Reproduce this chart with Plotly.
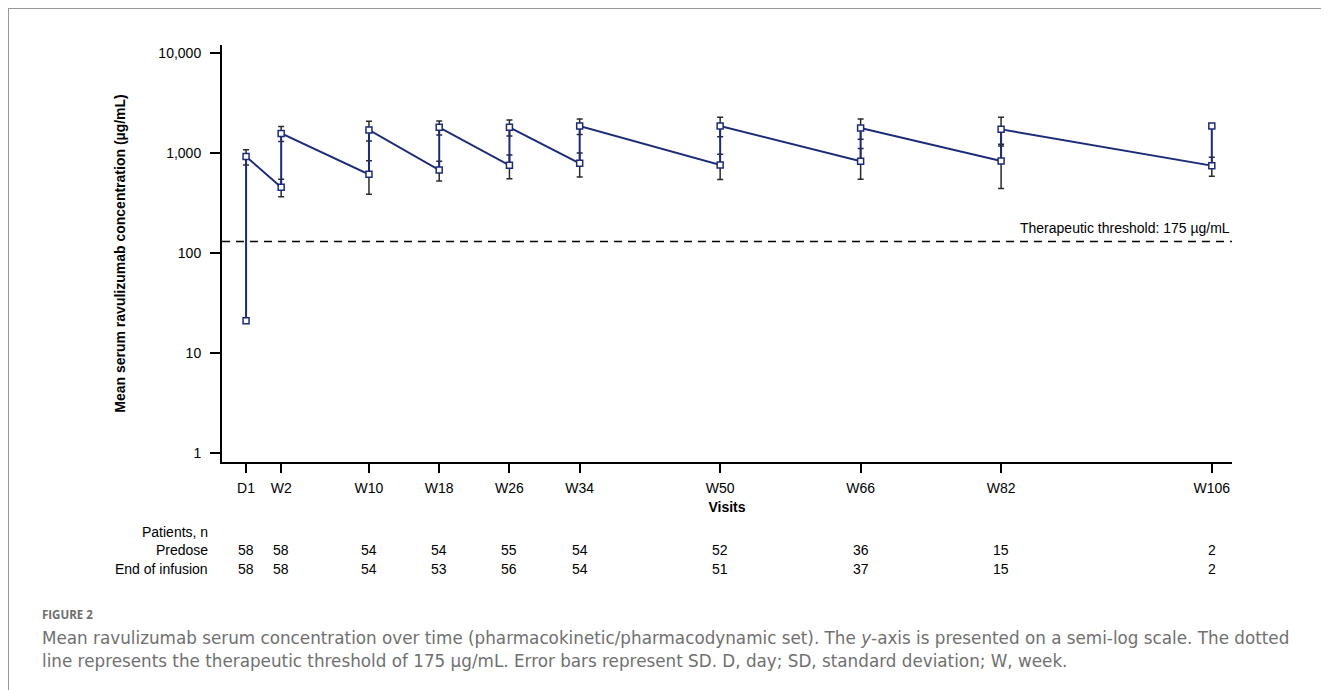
import math
import plotly.graph_objects as go

# ---------------- data ----------------
visits = ["D1", "W2", "W10", "W18", "W26", "W34", "W50", "W66", "W82", "W106"]
visit_x = [-4, 0, 10, 18, 26, 34, 50, 66, 82, 106]          # axis position of each visit
predose_mean = [21, 455, 612, 676, 753, 789, 759, 826, 832, 747]
predose_sd = [None, 90, 225, 150, 200, 213, 215, 280, 390, 160]
eoi_mean = [920, 1570, 1700, 1805, 1805, 1862, 1862, 1778, 1724, 1862]
eoi_sd = [160, 268, 380, 288, 330, 332, 410, 408, 550, None]
n_predose = [58, 58, 54, 54, 55, 54, 52, 36, 15, 2]
n_eoi = [58, 58, 54, 53, 56, 54, 51, 37, 15, 2]
threshold_drawn = 130          # level at which the dashed line is drawn in the figure
threshold_label = "Therapeutic threshold: 175 µg/mL"
y_tickvals = [1, 10, 100, 1000, 10000]
y_ticktext = ["1", "10", "100", "1,000", "10,000"]

# ---------------- layout geometry ----------------
OFF = 8                      # page body margin
W, H = 1329 - OFF, 690 - OFF
L, T = 222 - OFF, 45 - OFF
PW, PH = 1010, 417
R, B = W - L - PW, H - T - PH
X_RANGE = [-6.74, 108.3]
Y_RANGE = [-0.09, 4.08]


def pxx(p):
    """page x pixel -> paper x"""
    return (p - OFF - L) / PW


def pxy(p):
    """page y pixel -> paper y"""
    return (T + PH - (p - OFF)) / PH


NAVY = "#1c2b78"
FONT = "Liberation Sans, Arial, sans-serif"
CAP_FONT = "DejaVu Sans, Open Sans, sans-serif"

fig = go.Figure()


def err_trace(means, sds):
    xs, ys, es = [], [], []
    for x, m, s in zip(visit_x, means, sds):
        if s is not None:
            xs.append(x); ys.append(m); es.append(s)
    return go.Scatter(
        x=xs, y=ys, mode="markers",
        marker=dict(size=1, color="rgba(0,0,0,0)"),
        error_y=dict(type="data", array=es, visible=True, color="#2a2a2a",
                     thickness=1.5, width=3),
        hoverinfo="skip", showlegend=False,
    )


fig.add_trace(err_trace(predose_mean, predose_sd))
fig.add_trace(err_trace(eoi_mean, eoi_sd))

# sawtooth line: predose then end-of-infusion at every visit
saw_x, saw_y = [], []
for x, p, e in zip(visit_x, predose_mean, eoi_mean):
    saw_x += [x, x]
    saw_y += [p, e]

fig.add_trace(go.Scatter(
    x=saw_x, y=saw_y, mode="lines+markers",
    line=dict(color=NAVY, width=2),
    marker=dict(symbol="square", size=6, color="white",
                line=dict(color=NAVY, width=1.5)),
    showlegend=False,
))

# threshold dashed line
fig.add_trace(go.Scatter(
    x=X_RANGE, y=[threshold_drawn, threshold_drawn], mode="lines",
    line=dict(color="black", width=1.5, dash="8px,6px"),
    hoverinfo="skip", showlegend=False, cliponaxis=False,
))

annotations = []
annotations.append(dict(
    x=1, xref="paper", xanchor="right",
    y=math.log10(threshold_drawn), yref="y", yanchor="middle", yshift=14,
    text=threshold_label, showarrow=False,
    font=dict(family=FONT, size=14, color="black"),
))

# patients table
for label, yy in [("Patients, n", 532), ("Predose", 550), ("End of infusion", 569)]:
    annotations.append(dict(
        x=pxx(210), xref="paper", xanchor="right",
        y=pxy(yy), yref="paper", yanchor="middle",
        text=label, showarrow=False,
        font=dict(family=FONT, size=14, color="black"),
    ))
for row, yy in [(n_predose, 550), (n_eoi, 569)]:
    for x, n in zip(visit_x, row):
        annotations.append(dict(
            x=x, xref="x", xanchor="center",
            y=pxy(yy), yref="paper", yanchor="middle",
            text=str(n), showarrow=False,
            font=dict(family=FONT, size=14, color="black"),
        ))

# caption
annotations.append(dict(
    x=pxx(40), xref="paper", xanchor="left",
    y=pxy(614), yref="paper", yanchor="middle",
    text="<b>FIGURE 2</b>", showarrow=False,
    font=dict(family="Open Sans, sans-serif", size=11.5, color="#6e6e6e"),
))
cap1 = ("Mean ravulizumab serum concentration over time (pharmacokinetic/pharmacodynamic set). "
        "The <i>y</i>-axis is presented on a semi-log scale. The dotted")
cap2 = ("line represents the therapeutic threshold of 175 µg/mL. Error bars represent SD. "
        "D, day; SD, standard deviation; W, week.")
for txt, yy in [(cap1, 638), (cap2, 661)]:
    annotations.append(dict(
        x=pxx(40), xref="paper", xanchor="left",
        y=pxy(yy), yref="paper", yanchor="middle",
        text=txt, showarrow=False,
        font=dict(family=CAP_FONT, size=16.8, color="#707070"),
    ))

# frame (top and left rules)
shapes = [
    dict(type="line", xref="paper", yref="paper", x0=pxx(7), x1=pxx(1329 + 20),
         y0=pxy(8), y1=pxy(8), line=dict(color="#999999", width=2)),
    dict(type="line", xref="paper", yref="paper", x0=pxx(8), x1=pxx(8),
         y0=pxy(7), y1=pxy(700), line=dict(color="#999999", width=2)),
]

fig.update_layout(
    width=W, height=H,
    margin=dict(l=L, r=R, t=T, b=B, autoexpand=False),
    paper_bgcolor="white", plot_bgcolor="white",
    font=dict(family=FONT, size=14, color="black"),
    annotations=annotations, shapes=shapes,
    xaxis=dict(
        range=X_RANGE, tickmode="array", tickvals=visit_x, ticktext=visits,
        showgrid=False, zeroline=False, showline=True, linecolor="black", linewidth=2,
        ticks="outside", ticklen=9, tickwidth=2, tickcolor="black",
        ticklabelstandoff=3,
        tickfont=dict(family=FONT, size=14, color="black"),
        title=dict(text="<b>Visits</b>", standoff=7,
                   font=dict(family=FONT, size=14, color="black")),
    ),
    yaxis=dict(
        type="log", range=Y_RANGE, tickmode="array", tickvals=y_tickvals, ticktext=y_ticktext,
        showgrid=False, zeroline=False, showline=True, linecolor="black", linewidth=2,
        ticks="outside", ticklen=10, tickwidth=2, tickcolor="black",
        ticklabelstandoff=6,
        tickfont=dict(family=FONT, size=14, color="black"),
        title=dict(text="<b>Mean serum ravulizumab concentration (µg/mL)</b>", standoff=29,
                   font=dict(family=FONT, size=14, color="black")),
    ),
)

fig.write_html("out.html")
